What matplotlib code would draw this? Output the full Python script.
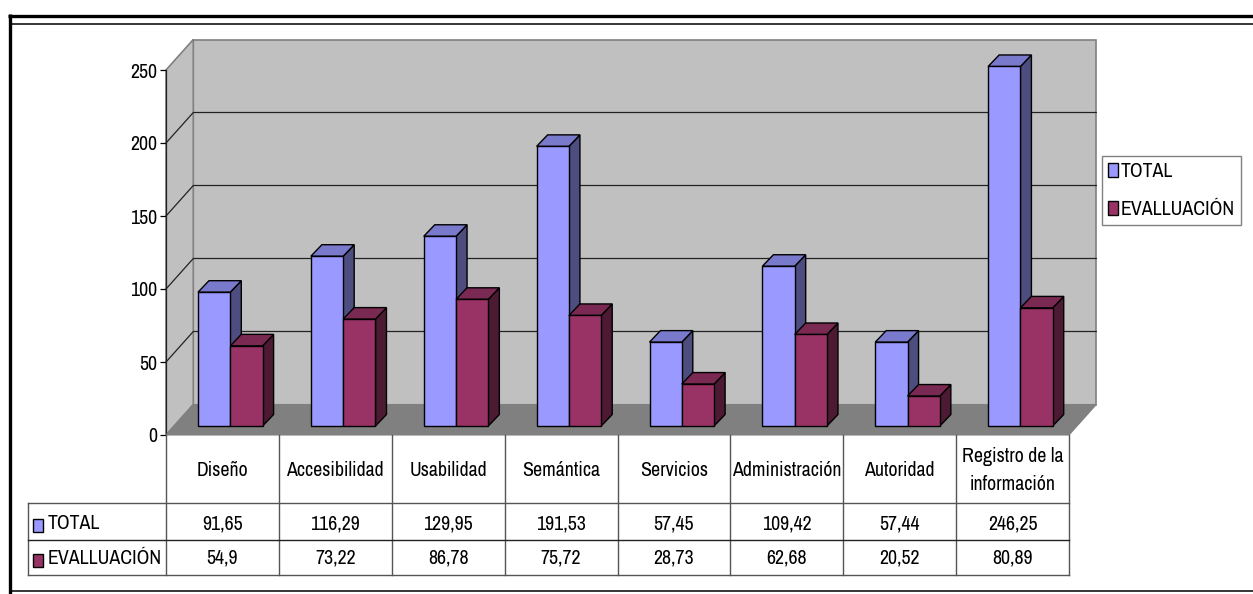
import matplotlib
matplotlib.use('Agg')
import matplotlib.pyplot as plt
from matplotlib import font_manager
from matplotlib.patches import Patch

categories = ['Diseño', 'Accesibilidad', 'Usabilidad', 'Semántica', 'Servicios',
              'Administración', 'Autoridad', 'Registro de la\ninformación']
total = [91.65, 116.29, 129.95, 191.53, 57.45, 109.42, 57.44, 246.25]
evaluacion = [54.9, 73.22, 86.78, 75.72, 28.73, 62.68, 20.52, 80.89]
series_names = ['TOTAL', 'EVALLUACIÓN']
y_ticks = [0, 50, 100, 150, 200, 250]

W, H = 1253, 594

# narrow sans if there is one, otherwise plain Liberation Sans set smaller
installed = {f.name for f in font_manager.fontManager.ttflist}
if 'Archivo Narrow' in installed:
    plt.rcParams['font.family'] = ['Archivo Narrow', 'Liberation Sans']
    FS = 14.3
else:
    plt.rcParams['font.family'] = ['Liberation Sans', 'DejaVu Sans']
    FS = 11.7

FRONT = ('#9999FF', '#993366')
SIDE = ('#4D4D80', '#4D1A33')
TOP = ('#7A7ACC', '#7A2952')

fig = plt.figure(figsize=(W / 100, H / 100), dpi=100)

# frame lines, drawn in pixel coordinates
ov = fig.add_axes([0, 0, 1, 1])
ov.set_xlim(0, W)
ov.set_ylim(H, 0)
ov.axis('off')
ov.plot([9.5, 9.5], [14, H], color='black', lw=2.4, solid_capstyle='butt')
ov.plot([8, W], [15.7, 15.7], color='black', lw=2.4, solid_capstyle='butt')
ov.plot([11, W], [23.7, 23.7], color='black', lw=1.1, solid_capstyle='butt')
ov.plot([11, W], [591, 591], color='black', lw=1.1, solid_capstyle='butt')

# main axes: x in categories, y in values; the walls are offset for the 3D look
ax = fig.add_axes([166 / W, (H - 435) / H, 903 / W, 365 / H])
ax.set_xlim(0, len(categories))
ax.set_ylim(0, 250)
ax.patch.set_visible(False)
for s in ['top', 'right', 'bottom']:
    ax.spines[s].set_visible(False)
ax.spines['left'].set_linewidth(0.9)
ax.spines['left'].set_color('#222222')
ax.set_xticks([])
ax.set_yticks(y_ticks)
ax.tick_params(axis='y', length=4.5, width=0.9, labelsize=FS, pad=2)

n = len(categories)
px = n / 903
wall_dx = 27.3 * px
wall_dy = 30.5 / (365 / 250)
bar_dx = 8 * px
bar_dy = 9 / (365 / 250)
cap_dx = 11 * px
cap_dy = 11.5 / (365 / 250)
bar_w = 32.3 * px
gap = 24 * px

ax.fill([wall_dx, n + wall_dx, n + wall_dx, wall_dx],
        [wall_dy, wall_dy, 250 + wall_dy, 250 + wall_dy],
        fc='#C0C0C0', ec='#808080', lw=1.2, clip_on=False, zorder=1)
ax.fill([0, wall_dx, wall_dx, 0], [0, wall_dy, 250 + wall_dy, 250],
        fc='#C0C0C0', ec='#808080', lw=1.2, clip_on=False, zorder=1)
for t in y_ticks[1:-1]:
    ax.plot([0, wall_dx, n + wall_dx], [t, t + wall_dy, t + wall_dy],
            color='#222222', lw=0.9, clip_on=False, zorder=2)
ax.fill([0, n, n + wall_dx, wall_dx], [0, 0, wall_dy, wall_dy],
        fc='#808080', ec='#808080', lw=0.8, clip_on=False, zorder=3)

# 3D bars, the second series sits right against the first
z = 4
for i in range(n):
    for k, values in enumerate((total, evaluacion)):
        x0 = i + bar_dx + gap + k * bar_w
        x1 = x0 + bar_w
        y0 = bar_dy
        y1 = bar_dy + values[i]
        ax.fill([x1, x1 + cap_dx, x1 + cap_dx, x1],
                [y0, y0 + cap_dy, y1 + cap_dy, y1],
                fc=SIDE[k], ec='black', lw=1, clip_on=False, zorder=z)
        ax.fill([x0, x0 + cap_dx, x1 + cap_dx, x1],
                [y1, y1 + cap_dy, y1 + cap_dy, y1],
                fc=TOP[k], ec='black', lw=1, clip_on=False, zorder=z)
        ax.fill([x0, x1, x1, x0], [y0, y0, y1, y1],
                fc=FRONT[k], ec='black', lw=1, clip_on=False, zorder=z)
        z += 1

# data table under the plot, x shared with the categories, y in pixels
tb = fig.add_axes([166 / W, (H - 575) / H, 903 / W, 140 / H])
tb.set_xlim(0, n)
tb.set_ylim(575, 435)
tb.axis('off')
row_left = -138 * px
grid = '#555555'
for i in range(n + 1):
    tb.plot([i, i], [435, 575], color=grid, lw=1, clip_on=False)
tb.plot([row_left, row_left], [502.5, 575], color=grid, lw=1, clip_on=False)
tb.plot([row_left, n], [502.5, 502.5], color=grid, lw=1, clip_on=False)
tb.plot([row_left, n], [540.3, 540.3], color='#222222', lw=1, clip_on=False)
tb.plot([row_left, n], [575, 575], color=grid, lw=1, clip_on=False)

for i, c in enumerate(categories):
    tb.text(i + 0.5, 470, c, ha='center', va='center', fontsize=FS, linespacing=1.6)
for y, values, name, color in zip((523.5, 558.5), (total, evaluacion), series_names, FRONT):
    tb.text(row_left + 20 * px, y, name, ha='left', va='center', fontsize=FS)
    tb.fill([row_left + 5 * px, row_left + 15 * px, row_left + 15 * px, row_left + 5 * px],
            [y - 5, y - 5, y + 8, y + 8], fc=color, ec='black', lw=1, clip_on=False)
    for i, v in enumerate(values):
        tb.text(i + 0.5, y, str(v).replace('.', ','), ha='center', va='center', fontsize=FS)

handles = [Patch(fc=FRONT[0], ec='black', lw=1), Patch(fc=FRONT[1], ec='black', lw=1)]
fig.legend(handles, series_names, loc='upper left',
           bbox_to_anchor=(1101.7 / W, 1 - 156 / H), borderaxespad=0, fontsize=FS,
           frameon=True, fancybox=False, framealpha=1, edgecolor='#808080',
           handlelength=0.5, handleheight=0.7, handletextpad=0.15,
           labelspacing=0.95, borderpad=0.3)

fig.savefig('out.png', dpi=100)
